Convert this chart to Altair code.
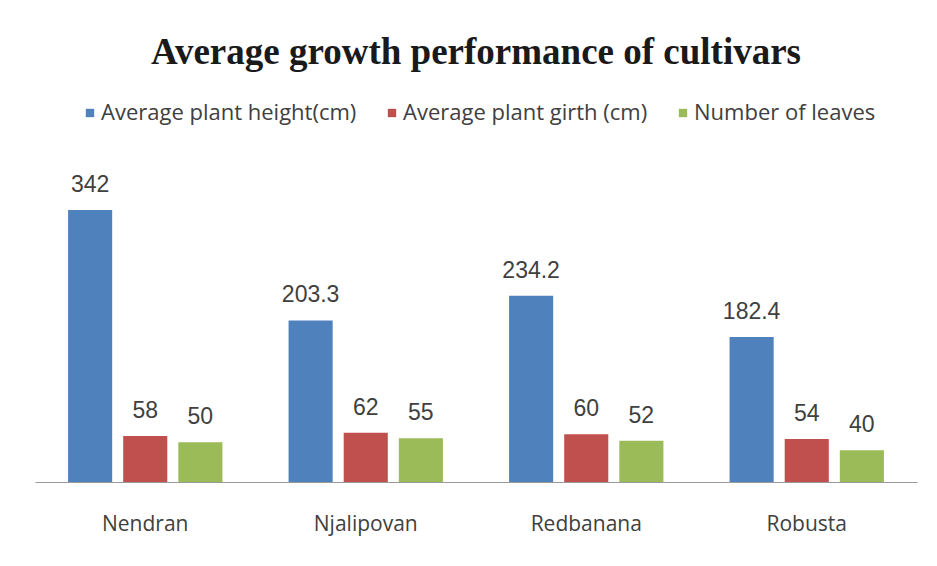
import altair as alt
import pandas as pd

cultivars = ["Nendran", "Njalipovan", "Redbanana", "Robusta"]
series = ["Average plant height(cm)", "Average plant girth (cm)", "Number of leaves"]
height_vals = [342, 203.3, 234.2, 182.4]
girth_vals = [58, 62, 60, 54]
leaves_vals = [50, 55, 52, 40]
colors = ["#4F81BD", "#C0504D", "#9BBB59"]

rows = []
for s, vals in zip(series, [height_vals, girth_vals, leaves_vals]):
    for c, v in zip(cultivars, vals):
        rows.append({"cultivar": c, "series": s, "value": v, "label": f"{v:g}"})
df = pd.DataFrame(rows)

x_enc = alt.X("cultivar:N", sort=cultivars,
              scale=alt.Scale(paddingInner=0.3, paddingOuter=0.15),
              axis=alt.Axis(title=None, labelAngle=0, ticks=False, labelPadding=31,
                            labelFont="Open Sans", labelFontSize=21, labelColor="#404040",
                            domainColor="#9a9a9a", domainWidth=1.2))
xo_enc = alt.XOffset("series:N", sort=series, scale=alt.Scale(paddingInner=0.2, paddingOuter=0))
y_enc = alt.Y("value:Q", scale=alt.Scale(domain=[0, 400], nice=False), axis=None)

bars = alt.Chart(df).mark_bar().encode(
    x=x_enc, xOffset=xo_enc, y=y_enc,
    color=alt.Color("series:N", sort=series,
                    scale=alt.Scale(domain=series, range=colors),
                    legend=alt.Legend(title=None, orient="none", direction="horizontal",
                                      legendX=44, legendY=-62, symbolType="square",
                                      symbolSize=70, symbolStrokeWidth=0,
                                      labelFont="Open Sans", labelFontSize=22, labelColor="#404040",
                                      columnPadding=24, symbolOffset=0, labelOffset=0,
                                      labelLimit=400)),
)
labels = alt.Chart(df).mark_text(baseline="alphabetic", dy=-18, font="Liberation Sans",
                                 fontSize=23, color="#404040").encode(
    x=x_enc, xOffset=xo_enc, y=y_enc, text="label:N")

chart = alt.layer(bars, labels).properties(
    width=882, height=318,
    background="white",
    title=alt.TitleParams("Average  growth performance of cultivars", font="Liberation Serif",
                          fontSize=37, fontWeight="bold", color="#1a1a1a",
                          anchor="middle", offset=30),
    autosize=alt.AutoSizeParams(type="none"),
    padding={"left": 35, "top": 164, "right": 20, "bottom": 84},
).configure_view(strokeWidth=0)

chart.save("out.html", embed_options={"renderer": "svg", "actions": False})
